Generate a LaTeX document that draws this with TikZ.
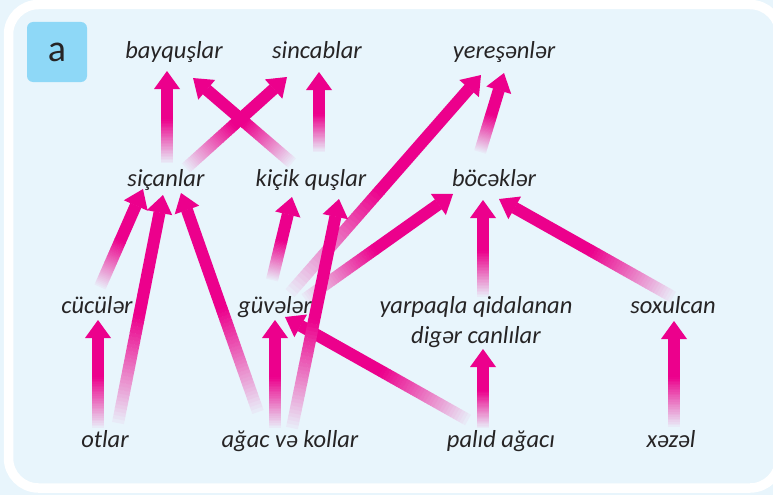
\documentclass[tikz,border=0pt]{standalone}
\usepackage{fontspec}
\setmainfont{Carlito}
\definecolor{mag}{RGB}{236,0,140}
\definecolor{bgblue}{RGB}{232,245,252}
\definecolor{boxblue}{RGB}{142,216,247}
\definecolor{txt}{RGB}{38,36,37}
\pgfdeclarelayer{bgl}\pgfdeclarelayer{arr}\pgfsetlayers{bgl,arr,main}
\newcommand\garrow[2]{%
  \pgfpointdiff{\pgfpointanchor{#1}{center}}{\pgfpointanchor{#2}{center}}%
  \pgfgetlastxy{\gdx}{\gdy}%
  \pgfmathsetmacro\glen{veclen(\gdx,\gdy)}%
  \pgfmathsetmacro\gang{atan2(\gdy,\gdx)}%
  \pgfmathsetmacro\ghb{\glen-18}%
  \pgfmathsetmacro\ggr{0.47*\glen}%
  \begin{scope}[shift={(#1)},rotate=\gang,x=1pt,y=1pt]
    \fill[mag] (\ggr-0.3,-6) rectangle (\ghb+0.3,6);
    \fill[mag] (\ghb,-13) -- (\glen,0) -- (\ghb,13) -- cycle;
    \foreach \gi in {0,...,29}{%
      \pgfmathsetmacro\gxa{\gi*\ggr/30}%
      \pgfmathsetmacro\gxb{(\gi+1)*\ggr/30+0.35}%
      \pgfmathsetmacro\gpc{3+97*((\gi+0.5)/30)}%
      \fill[mag!\gpc!bgblue] (\gxa,-6) rectangle (\gxb,6);
    }
  \end{scope}%
}
\tikzset{lbl/.style={font=\fontsize{24.5}{30}\selectfont\itshape, text=txt, inner sep=0pt, anchor=base, align=center}}
\begin{document}
\begin{tikzpicture}[x=1pt,y=-1pt]
\useasboundingbox (0,0) rectangle (773,495);
\begin{pgfonlayer}{bgl}
\fill[bgblue] (0,0) rectangle (773,495);
\draw[white, line width=9.5pt, rounded corners=30pt] (8.5,4.5) rectangle (780,488);
\end{pgfonlayer}
\node[fill=boxblue, rounded corners=6pt, minimum size=60pt, inner sep=0pt, text=txt, font=\fontsize{38}{38}\selectfont] (alabel) at (57,52) {a};
% nodes
\node[lbl] (bayqus) at (174,59) {bayquşlar};
\node[lbl] (sincab) at (317,59) {sincablar};
\node[lbl] (yeresen) at (504,59) {yereşənlər};
\node[lbl] (sican) at (166,186) {siçanlar};
\node[lbl] (kicik) at (311,186) {kiçik quşlar};
\node[lbl] (bocek) at (494,186) {böcəklər};
\node[lbl] (cucu) at (97,313) {cücülər};
\node[lbl] (guve) at (275,313) {güvələr};
\node[lbl] (yarpaq) at (476,343) {yarpaqla qidalanan\\digər canlılar};
\node[lbl] (soxul) at (673,313) {soxulcan};
\node[lbl] (otlar) at (105,447) {otlar};
\node[lbl] (agac) at (290,447) {ağac və kollar};
\node[lbl] (palid) at (501,447) {palıd ağacı};
\node[lbl] (xezel) at (671,447) {xəzəl};
% connector ends
\coordinate (A1t) at (167,163);  \coordinate (A1h) at (167,71);
\coordinate (A2t) at (292,163);  \coordinate (A2h) at (193,78);
\coordinate (A3t) at (186,168);  \coordinate (A3h) at (287,77);
\coordinate (A4t) at (319,152);  \coordinate (A4h) at (319,72);
\coordinate (A5t) at (480,152);  \coordinate (A5h) at (504,73);
\coordinate (A6t) at (290,293);  \coordinate (A6h) at (481,75);
\coordinate (A7t) at (98,428);   \coordinate (A7h) at (98,320);
\coordinate (A8t) at (118,423);  \coordinate (A8h) at (163,195);
\coordinate (A9t) at (100,287);  \coordinate (A9h) at (143,189);
\coordinate (A10t) at (258,412); \coordinate (A10h) at (181,193);
\coordinate (A11t) at (275,428); \coordinate (A11h) at (275,320);
\coordinate (A12t) at (292,428); \coordinate (A12h) at (339,199);
\coordinate (A13t) at (468,420); \coordinate (A13h) at (285,317);
\coordinate (A14t) at (483,428); \coordinate (A14h) at (483,349);
\coordinate (A15t) at (483,297); \coordinate (A15h) at (483,200);
\coordinate (A16t) at (673,297); \coordinate (A16h) at (499,199);
\coordinate (A17t) at (674,427); \coordinate (A17h) at (674,321);
\coordinate (A18t) at (272,280); \coordinate (A18h) at (292,197);
\coordinate (A19t) at (305,299); \coordinate (A19h) at (453,194);
\begin{pgfonlayer}{arr}
\garrow{A1t}{A1h}
\garrow{A4t}{A4h}
\garrow{A2t}{A2h}
\garrow{A3t}{A3h}
\garrow{A5t}{A5h}
\garrow{A7t}{A7h}
\garrow{A9t}{A9h}
\garrow{A8t}{A8h}
\garrow{A10t}{A10h}
\garrow{A11t}{A11h}
\garrow{A13t}{A13h}
\garrow{A14t}{A14h}
\garrow{A15t}{A15h}
\garrow{A16t}{A16h}
\garrow{A17t}{A17h}
\garrow{A18t}{A18h}
\garrow{A19t}{A19h}
\garrow{A6t}{A6h}
\garrow{A12t}{A12h}
\end{pgfonlayer}
\end{tikzpicture}
\end{document}
